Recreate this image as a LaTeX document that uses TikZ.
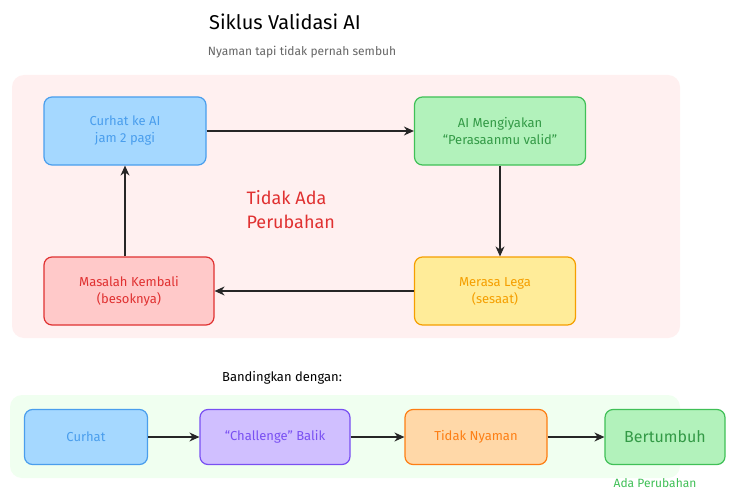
\documentclass[tikz,border=0pt]{standalone}
\usepackage{fontspec}
\setmainfont{Fira Sans}
\usetikzlibrary{arrows.meta}
\definecolor{bblue}{HTML}{4A9EED}\definecolor{fblue}{HTML}{A5D8FF}
\definecolor{bgreen}{HTML}{40C057}\definecolor{fgreen}{HTML}{B2F2BB}
\definecolor{byel}{HTML}{F59F00}\definecolor{fyel}{HTML}{FFEC99}
\definecolor{bred}{HTML}{E03131}\definecolor{fred}{HTML}{FFC9C9}
\definecolor{bpur}{HTML}{7950F2}\definecolor{fpur}{HTML}{D0BFFF}
\definecolor{bora}{HTML}{FD7E14}\definecolor{fora}{HTML}{FFD8A8}
\begin{document}
\begin{tikzpicture}[x=1pt,y=-1pt,
 box/.style={draw=#1!100,line width=1.2pt,rounded corners=8pt,align=center,font=\fontsize{13}{17}\selectfont,inner sep=0pt},
 arr/.style={-{Stealth[length=10pt,width=9pt]},line width=1.2pt,black!85}]
\useasboundingbox (0,0) rectangle (735,500);
\fill[white] (0,0) rectangle (735,500);
\node[font=\fontsize{20}{24}\selectfont] (title) at (285,22) {Siklus Validasi AI};
\node[text=black!60,font=\fontsize{12}{14}\selectfont] (sub) at (302,52) {Nyaman tapi tidak pernah sembuh};
\fill[red!6,rounded corners=12pt] (12,75) rectangle (680,338);
\node[box=bblue,fill=fblue,text=bblue,minimum width=162pt,minimum height=68pt] (a) at (125,131) {Curhat ke AI\\jam 2 pagi};
\node[box=bgreen,fill=fgreen,text=bgreen!80!black,minimum width=171pt,minimum height=68pt] (b) at (500,131) {AI Mengiyakan\\``Perasaanmu valid''};
\node[box=byel,fill=fyel,text=byel,minimum width=161pt,minimum height=68pt] (c) at (495,291) {Merasa Lega\\(sesaat)};
\node[box=bred,fill=fred,text=bred,minimum width=170pt,minimum height=68pt] (d) at (129,291) {Masalah Kembali\\(besoknya)};
\node[text=bred,align=left,font=\fontsize{18}{24}\selectfont,anchor=west] (t) at (243,210) {Tidak Ada\\Perubahan};
\draw[arr] (a) -- (a -| b.west);
\draw[arr] (b.south) -- (b.south |- c.north);
\draw[arr] (c.west) -- (d.east);
\draw[arr] (d.north -| a.south) -- (a.south);
\node[font=\fontsize{13}{16}\selectfont] (cmp) at (282,378) {Bandingkan dengan:};
\fill[green!6,rounded corners=12pt] (10,395) rectangle (680,478);
\node[box=bblue,fill=fblue,text=bblue,minimum width=123pt,minimum height=55pt] (e) at (86,437) {Curhat};
\node[box=bpur,fill=fpur,text=bpur,minimum width=150pt,minimum height=55pt] (f) at (275,437) {``Challenge'' Balik};
\node[box=bora,fill=fora,text=bora,minimum width=142pt,minimum height=55pt] (g) at (476,437) {Tidak Nyaman};
\node[box=bgreen,fill=fgreen,text=bgreen!80!black,minimum width=120pt,minimum height=55pt,font=\fontsize{16}{19}\selectfont] (h) at (665,437) {Bertumbuh};
\node[text=bgreen,font=\fontsize{12}{14}\selectfont] (ap) at (655,483) {Ada Perubahan};
\draw[arr] (e) -- (f);
\draw[arr] (f) -- (g);
\draw[arr] (g) -- (h);
\end{tikzpicture}
\end{document}
